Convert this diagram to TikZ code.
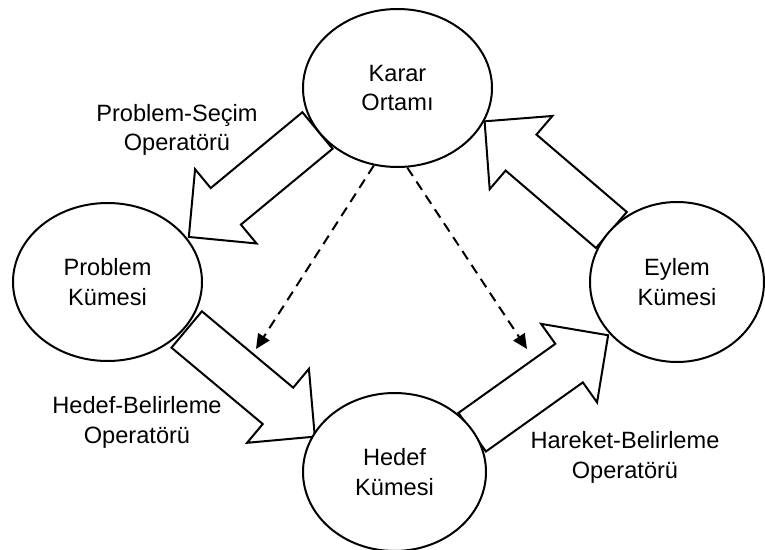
\documentclass[tikz,border=0pt]{standalone}
\usepackage{fontspec}
\setmainfont{Liberation Sans}
\usetikzlibrary{shapes.geometric,arrows.meta}

\tikzset{
  kume/.style={draw, ellipse, fill=white, line width=1.5pt, inner sep=0pt, align=center},
  etiket/.style={align=center},
  blokok/.style={draw, fill=white, line width=1.5pt, line join=miter},
  kesikok/.style={line width=1.5pt, dash pattern=on 7.5pt off 5pt, -{Triangle[length=11pt,width=10pt]}}
}
% hollow operator arrow: tail middle (#1,#2), direction #3
\newcommand{\opok}[3]{%
  \filldraw[blokok, shift={(#1,#2)}, rotate=#3] (0,23.7) -- (119,23.7) -- (119,48.2) -- (167,0)
    -- (119,-48.2) -- (119,-23.7) -- (0,-23.7) -- cycle;}

\begin{document}
\begin{tikzpicture}[x=0.75pt, y=-0.75pt, font=\fontsize{17.7}{22.1}\selectfont]
\useasboundingbox (0,0) rectangle (765,550);

\opok{317.5}{130.5}{219.6}
\opok{186.7}{329.5}{320.1}
\opok{472.2}{432.2}{35.5}
\opok{611.4}{230}{139.4}

\node[kume, minimum width=141.75pt, minimum height=118.5pt] (karar) at (397.5,88) {Karar\\Ortamı};
\node[kume, minimum width=141.75pt, minimum height=118.5pt] (problem) at (107.5,282) {Problem\\Kümesi};
\node[kume, minimum width=130.5pt, minimum height=120pt] (eylem) at (677,282) {Eylem\\Kümesi};
\node[kume, minimum width=137.25pt, minimum height=118.5pt] (hedef) at (394.5,472) {Hedef\\Kümesi};

\node[etiket] (secim) at (177,130) {Problem-Seçim\\Operatörü};
\node[etiket] (belirleme) at (137,422.5) {Hedef-Belirleme\\Operatörü};
\node[etiket] (hareket) at (625,457.5) {Hareket-Belirleme\\Operatörü};

\coordinate (solUc) at (256,349);
\coordinate (sagUc) at (527,349);
\draw[kesikok] (karar.253.7) -- (solUc);
\draw[kesikok] (karar.277) -- (sagUc);
\end{tikzpicture}
\end{document}
